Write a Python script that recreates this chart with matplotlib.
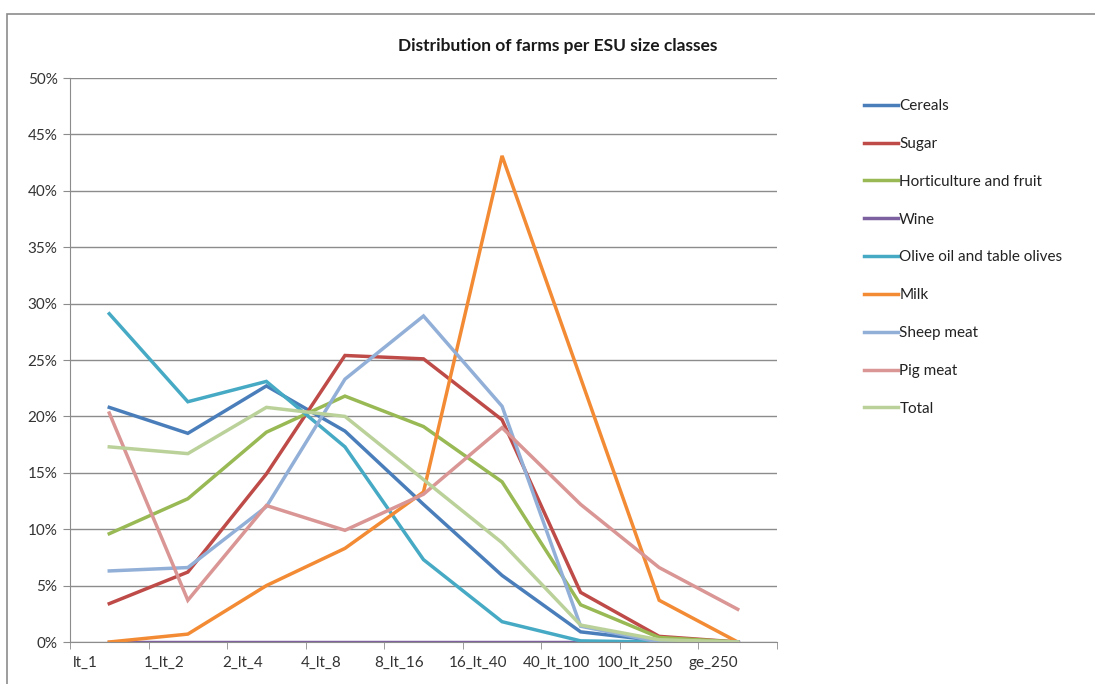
import matplotlib
matplotlib.use('Agg')
import matplotlib.pyplot as plt
import matplotlib.transforms as mtransforms
from matplotlib.patches import Rectangle
from matplotlib.ticker import FuncFormatter, FixedLocator

plt.rcParams['font.family'] = ['Lato', 'DejaVu Sans']

classes = ['lt_1', '1_lt_2', '2_lt_4', '4_lt_8', '8_lt_16', '16_lt_40', '40_lt_100', '100_lt_250', 'ge_250']

# shares in %
cereals = [20.8, 18.5, 22.7, 18.7, 12.2, 5.9, 0.9, 0.1, 0.0]
sugar = [3.4, 6.2, 14.9, 25.4, 25.1, 19.7, 4.4, 0.5, 0.0]
horti = [9.6, 12.7, 18.6, 21.8, 19.1, 14.2, 3.3, 0.4, 0.0]
wine = [0.0, 0.0, 0.0, 0.0, 0.0, 0.0, 0.0, 0.0, 0.0]
olive = [29.1, 21.3, 23.1, 17.3, 7.3, 1.8, 0.1, 0.0, 0.0]
milk = [0.0, 0.7, 5.0, 8.3, 13.3, 43.1, 23.4, 3.7, 0.0]
sheep = [6.3, 6.6, 12.0, 23.3, 28.9, 20.9, 1.4, 0.0, 0.0]
pig = [20.3, 3.7, 12.1, 9.9, 13.1, 19.0, 12.2, 6.6, 2.9]
total = [17.3, 16.7, 20.8, 20.0, 14.4, 8.8, 1.5, 0.2, 0.0]

series = [
    ('Cereals', cereals, '#4A7EBB'),
    ('Sugar', sugar, '#BE4B48'),
    ('Horticulture and fruit', horti, '#98B954'),
    ('Wine', wine, '#7D60A0'),
    ('Olive oil and table olives', olive, '#46AAC5'),
    ('Milk', milk, '#F38B35'),
    ('Sheep meat', sheep, '#92AFD8'),
    ('Pig meat', pig, '#D99694'),
    ('Total', total, '#BBD19A'),
]

fig = plt.figure(figsize=(10.95, 6.84), dpi=100)
ax = fig.add_axes([70 / 1095, 1 - 642 / 684, 707 / 1095, 564 / 684])

x = list(range(len(classes)))
for name, vals, col in series:
    ax.plot(x, [v / 100 for v in vals], color=col, lw=2.5, label=name,
            solid_joinstyle='miter')

ax.set_xlim(-0.5, len(classes) - 0.5)
ax.set_ylim(0, 0.5)
ax.set_yticks([i * 0.05 for i in range(11)])
ax.yaxis.set_major_formatter(FuncFormatter(lambda v, p: '%d%%' % round(v * 100)))
ax.grid(axis='y', color='#8C8C8C', lw=1)
ax.set_axisbelow(True)

ax.set_xticks(x)
ax.set_xticklabels(classes)
ax.xaxis.set_minor_locator(FixedLocator([i - 0.5 for i in range(len(classes) + 1)]))
ax.tick_params(axis='x', which='major', length=0, pad=10, labelsize=11, colors='#333333')
ax.tick_params(axis='x', which='minor', length=5, color='#8C8C8C', direction='out')
ax.tick_params(axis='y', length=5, color='#8C8C8C', labelsize=11, colors='#333333', pad=4)
shift = mtransforms.ScaledTranslation(-24 / 100, 0, fig.dpi_scale_trans)
for lab in ax.get_xticklabels():
    lab.set_transform(lab.get_transform() + shift)

for s in ['top', 'right']:
    ax.spines[s].set_visible(False)
for s in ['left', 'bottom']:
    ax.spines[s].set_color('#8C8C8C')

fig.text(558 / 1095, 1 - 46 / 684, 'Distribution of farms per ESU size classes',
         ha='center', va='center', fontsize=12.5, fontweight='bold', color='#1a1a1a')

ax.legend(loc='upper left', bbox_to_anchor=(858 / 1095, 1 - 93 / 684),
          bbox_transform=fig.transFigure, frameon=False, fontsize=11,
          handlelength=2.2, handletextpad=0.1, labelspacing=1.56,
          borderaxespad=0, labelcolor='#222222')

fig.patches.append(Rectangle((7 / 1095, -0.1), 1.2, 1.1 - 14 / 684,
                             transform=fig.transFigure, fill=False,
                             edgecolor='#8C8C8C', lw=1.2))

fig.savefig('out.png', dpi=100)
